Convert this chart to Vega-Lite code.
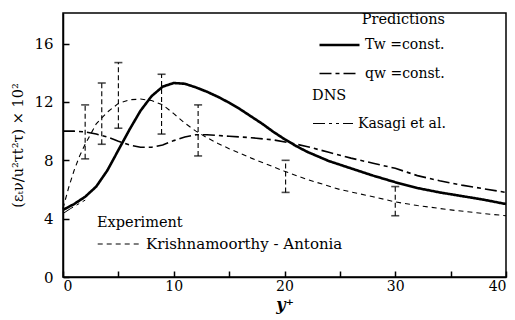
{
  "$schema": "https://vega.github.io/schema/vega-lite/v6.json",
  "width": 443,
  "height": 264,
  "autosize": {"type": "none"},
  "padding": {"left": 63, "top": 13, "right": 9, "bottom": 43},
  "background": "white",
  "config": {
    "view": {"stroke": "black", "strokeWidth": 1.5},
    "font": "DejaVu Serif",
    "axis": {"domainColor": "black", "domainWidth": 1.5, "tickColor": "black", "tickWidth": 1.5, "labelColor": "black", "titleColor": "black", "grid": false},
    "legend": {"titleFontWeight": "normal", "labelColor": "black", "titleColor": "black", "symbolType": "stroke", "symbolSize": 1600, "symbolStrokeColor": "black", "labelLimit": 300}
  },
  "datasets": {
    "pred": [
      {"series": "Tw =const.", "x": 0, "y": 4.6}, {"series": "Tw =const.", "x": 1, "y": 5.0}, {"series": "Tw =const.", "x": 2, "y": 5.5}, {"series": "Tw =const.", "x": 3, "y": 6.2}, {"series": "Tw =const.", "x": 4, "y": 7.3}, {"series": "Tw =const.", "x": 5, "y": 8.7}, {"series": "Tw =const.", "x": 6, "y": 10.1}, {"series": "Tw =const.", "x": 7, "y": 11.4}, {"series": "Tw =const.", "x": 8, "y": 12.4}, {"series": "Tw =const.", "x": 9, "y": 13.05}, {"series": "Tw =const.", "x": 10, "y": 13.3}, {"series": "Tw =const.", "x": 11, "y": 13.25}, {"series": "Tw =const.", "x": 12, "y": 13.0}, {"series": "Tw =const.", "x": 13, "y": 12.7}, {"series": "Tw =const.", "x": 14, "y": 12.35}, {"series": "Tw =const.", "x": 15, "y": 11.95}, {"series": "Tw =const.", "x": 16, "y": 11.5}, {"series": "Tw =const.", "x": 17, "y": 11.0}, {"series": "Tw =const.", "x": 18, "y": 10.5}, {"series": "Tw =const.", "x": 19, "y": 9.95}, {"series": "Tw =const.", "x": 20, "y": 9.45}, {"series": "Tw =const.", "x": 21, "y": 9.0}, {"series": "Tw =const.", "x": 22, "y": 8.6}, {"series": "Tw =const.", "x": 24, "y": 7.95}, {"series": "Tw =const.", "x": 26, "y": 7.45}, {"series": "Tw =const.", "x": 28, "y": 6.95}, {"series": "Tw =const.", "x": 30, "y": 6.5}, {"series": "Tw =const.", "x": 32, "y": 6.1}, {"series": "Tw =const.", "x": 34, "y": 5.8}, {"series": "Tw =const.", "x": 36, "y": 5.55}, {"series": "Tw =const.", "x": 38, "y": 5.3}, {"series": "Tw =const.", "x": 40, "y": 5.0},
      {"series": "qw =const.", "x": 0, "y": 10.0}, {"series": "qw =const.", "x": 1, "y": 10.0}, {"series": "qw =const.", "x": 2, "y": 9.95}, {"series": "qw =const.", "x": 3, "y": 9.8}, {"series": "qw =const.", "x": 4, "y": 9.6}, {"series": "qw =const.", "x": 5, "y": 9.3}, {"series": "qw =const.", "x": 6, "y": 9.05}, {"series": "qw =const.", "x": 7, "y": 8.9}, {"series": "qw =const.", "x": 8, "y": 8.9}, {"series": "qw =const.", "x": 9, "y": 9.05}, {"series": "qw =const.", "x": 10, "y": 9.35}, {"series": "qw =const.", "x": 11, "y": 9.6}, {"series": "qw =const.", "x": 12, "y": 9.75}, {"series": "qw =const.", "x": 13, "y": 9.75}, {"series": "qw =const.", "x": 15, "y": 9.65}, {"series": "qw =const.", "x": 17, "y": 9.55}, {"series": "qw =const.", "x": 19, "y": 9.4}, {"series": "qw =const.", "x": 20.5, "y": 9.2}, {"series": "qw =const.", "x": 22, "y": 8.95}, {"series": "qw =const.", "x": 24, "y": 8.55}, {"series": "qw =const.", "x": 26, "y": 8.15}, {"series": "qw =const.", "x": 28, "y": 7.8}, {"series": "qw =const.", "x": 30, "y": 7.45}, {"series": "qw =const.", "x": 32, "y": 6.95}, {"series": "qw =const.", "x": 34, "y": 6.6}, {"series": "qw =const.", "x": 36, "y": 6.3}, {"series": "qw =const.", "x": 38, "y": 6.05}, {"series": "qw =const.", "x": 40, "y": 5.8}
    ],
    "dns": [
      {"series": "Kasagi et al.", "x": 0, "y": 4.35}, {"series": "Kasagi et al.", "x": 0.7, "y": 4.7}, {"series": "Kasagi et al.", "x": 1.5, "y": 5.05}, {"series": "Kasagi et al.", "x": 2.3, "y": 5.4}
    ],
    "exp": [
      {"series": "Krishnamoorthy - Antonia", "x": 0, "y": 4.7}, {"series": "Krishnamoorthy - Antonia", "x": 0.5, "y": 6.1}, {"series": "Krishnamoorthy - Antonia", "x": 1, "y": 7.3}, {"series": "Krishnamoorthy - Antonia", "x": 1.5, "y": 8.3}, {"series": "Krishnamoorthy - Antonia", "x": 2, "y": 9.1}, {"series": "Krishnamoorthy - Antonia", "x": 3, "y": 10.5}, {"series": "Krishnamoorthy - Antonia", "x": 4, "y": 11.3}, {"series": "Krishnamoorthy - Antonia", "x": 5, "y": 11.9}, {"series": "Krishnamoorthy - Antonia", "x": 6, "y": 12.15}, {"series": "Krishnamoorthy - Antonia", "x": 7, "y": 12.2}, {"series": "Krishnamoorthy - Antonia", "x": 8, "y": 12.1}, {"series": "Krishnamoorthy - Antonia", "x": 9, "y": 11.8}, {"series": "Krishnamoorthy - Antonia", "x": 10, "y": 11.2}, {"series": "Krishnamoorthy - Antonia", "x": 11, "y": 10.55}, {"series": "Krishnamoorthy - Antonia", "x": 12, "y": 10.0}, {"series": "Krishnamoorthy - Antonia", "x": 13, "y": 9.55}, {"series": "Krishnamoorthy - Antonia", "x": 14, "y": 9.15}, {"series": "Krishnamoorthy - Antonia", "x": 15, "y": 8.8}, {"series": "Krishnamoorthy - Antonia", "x": 17, "y": 8.15}, {"series": "Krishnamoorthy - Antonia", "x": 20, "y": 7.25}, {"series": "Krishnamoorthy - Antonia", "x": 22, "y": 6.7}, {"series": "Krishnamoorthy - Antonia", "x": 25, "y": 6.0}, {"series": "Krishnamoorthy - Antonia", "x": 28, "y": 5.5}, {"series": "Krishnamoorthy - Antonia", "x": 30, "y": 5.15}, {"series": "Krishnamoorthy - Antonia", "x": 32, "y": 4.9}, {"series": "Krishnamoorthy - Antonia", "x": 35, "y": 4.6}, {"series": "Krishnamoorthy - Antonia", "x": 38, "y": 4.35}, {"series": "Krishnamoorthy - Antonia", "x": 40, "y": 4.2}
    ],
    "bars": [
      {"x": 2.0, "lo": 8.1, "hi": 11.8}, {"x": 3.5, "lo": 9.1, "hi": 13.3}, {"x": 5.0, "lo": 10.2, "hi": 14.7}, {"x": 8.9, "lo": 9.8, "hi": 13.9}, {"x": 12.2, "lo": 8.3, "hi": 11.8}, {"x": 20.1, "lo": 5.8, "hi": 8.0}, {"x": 30.0, "lo": 4.2, "hi": 6.2}
    ]
  },
  "layer": [
    {
      "data": {"name": "pred"},
      "mark": {"type": "line", "color": "black"},
      "encoding": {
        "x": {"field": "x", "type": "quantitative", "scale": {"domain": [0, 40], "nice": false}, "axis": {"title": "y⁺", "titleFont": "DejaVu Serif", "labelFont": "DejaVu Serif", "labelFontSize": 14, "titleFontSize": 16, "titleFontStyle": "italic", "titleFontWeight": "bold", "titlePadding": 3, "values": [0, 5, 10, 15, 20, 25, 30, 35, 40], "labelExpr": "datum.value % 10 == 0 ? datum.label : ''", "tickSize": -6, "labelPadding": 8}},
        "y": {"field": "y", "type": "quantitative", "scale": {"domain": [0, 18.1], "nice": false}, "axis": {"title": "(εₜν/u²τt²τ) × 10²", "titleFont": "DejaVu Serif", "labelFont": "DejaVu Serif", "labelFontSize": 15, "titleFontSize": 14.5, "titleFontWeight": "normal", "titlePadding": 8, "values": [0, 4, 8, 12, 16], "tickSize": -6, "labelPadding": 16}},
        "strokeDash": {"field": "series", "type": "nominal", "scale": {"domain": ["Tw =const.", "qw =const."], "range": [[1, 0], [12, 4, 4, 4]]}, "legend": {"title": "Predictions", "titleFont": "DejaVu Serif", "labelFont": "DejaVu Serif", "titleFontSize": 14.5, "labelFontSize": 14, "orient": "none", "legendX": 255, "legendY": 0, "titleAnchor": "end", "titlePadding": -4, "rowPadding": -13, "labelOffset": 4, "symbolStrokeWidth": 2.5}},
        "strokeWidth": {"field": "series", "type": "nominal", "scale": {"domain": ["Tw =const.", "qw =const."], "range": [2.6, 1.6]}, "legend": null}
      }
    },
    {
      "data": {"name": "dns"},
      "mark": {"type": "line", "color": "black", "strokeWidth": 1},
      "encoding": {
        "x": {"field": "x", "type": "quantitative"},
        "y": {"field": "y", "type": "quantitative"},
        "strokeDash": {"field": "series", "type": "nominal", "scale": {"range": [[12, 4, 3, 4, 3, 4]]}, "legend": {"title": "DNS", "titleFont": "DejaVu Serif", "labelFont": "DejaVu Serif", "titleFontSize": 14.5, "labelFontSize": 14, "orient": "none", "legendX": 249, "legendY": 76, "titlePadding": -1, "labelOffset": 4, "symbolStrokeWidth": 1.2}}
      }
    },
    {
      "data": {"name": "exp"},
      "mark": {"type": "line", "color": "black", "strokeWidth": 1.1},
      "encoding": {
        "x": {"field": "x", "type": "quantitative"},
        "y": {"field": "y", "type": "quantitative"},
        "strokeDash": {"field": "series", "type": "nominal", "scale": {"range": [[5, 4]]}, "legend": {"title": "Experiment", "titleFont": "DejaVu Serif", "labelFont": "DejaVu Serif", "titleFontSize": 14.5, "labelFontSize": 15, "orient": "none", "legendX": 34, "legendY": 203, "titlePadding": -9, "labelOffset": 4, "symbolSize": 1900, "symbolStrokeWidth": 1.2}}
      }
    },
    {
      "data": {"name": "bars"},
      "mark": {"type": "rule", "color": "black", "strokeWidth": 1.1, "strokeDash": [5, 3]},
      "encoding": {
        "x": {"field": "x", "type": "quantitative"},
        "y": {"field": "lo", "type": "quantitative"},
        "y2": {"field": "hi"}
      }
    },
    {
      "data": {"name": "bars"},
      "mark": {"type": "tick", "orient": "horizontal", "color": "black", "size": 8, "thickness": 1.6},
      "encoding": {
        "x": {"field": "x", "type": "quantitative"},
        "y": {"field": "lo", "type": "quantitative"}
      }
    },
    {
      "data": {"name": "bars"},
      "mark": {"type": "tick", "orient": "horizontal", "color": "black", "size": 8, "thickness": 1.6},
      "encoding": {
        "x": {"field": "x", "type": "quantitative"},
        "y": {"field": "hi", "type": "quantitative"}
      }
    }
  ],
  "resolve": {"scale": {"strokeDash": "independent", "strokeWidth": "independent"}, "legend": {"strokeDash": "independent"}}
}
